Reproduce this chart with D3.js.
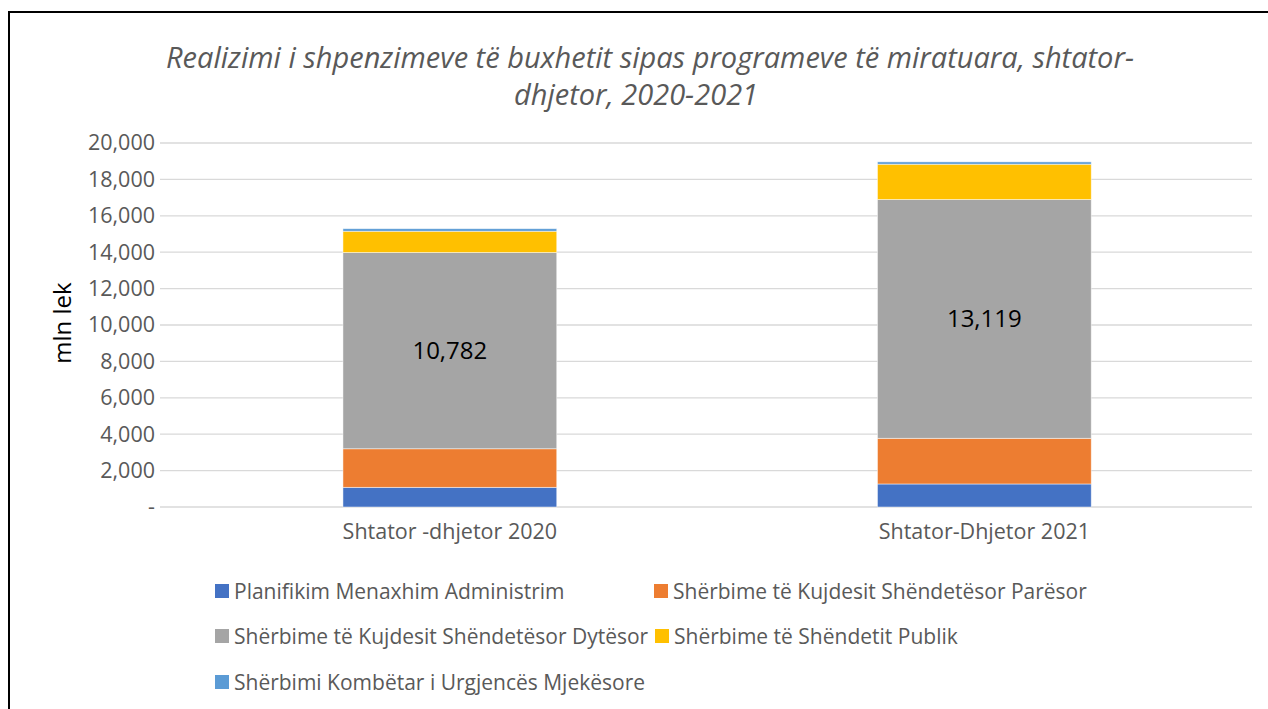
<!DOCTYPE html>
<html>
<head>
<meta charset="utf-8">
<script src="https://cdn.jsdelivr.net/npm/d3@7"></script>
<style>
  body { margin: 0; background: #fff; }
  svg text { font-family: "Open Sans", sans-serif; }
</style>
</head>
<body>
<div id="chart"></div>
<script>
// categories and series (mln lek)
var categories = ["Shtator -dhjetor 2020", "Shtator-Dhjetor 2021"];
var seriesNames = [
  "Planifikim Menaxhim Administrim",
  "Shërbime të Kujdesit Shëndetësor Parësor",
  "Shërbime të Kujdesit Shëndetësor Dytësor",
  "Shërbime të Shëndetit Publik",
  "Shërbimi Kombëtar i Urgjencës Mjekësore"
];
var planifikim = [1080, 1265];
var paresor = [2120, 2510];
var dytesor = [10782, 13119];
var publik = [1170, 1940];
var urgjenca = [140, 130];
var yTicks = [0, 2000, 4000, 6000, 8000, 10000, 12000, 14000, 16000, 18000, 20000];

var colors = ["#4472C4", "#ED7D31", "#A5A5A5", "#FFC000", "#5B9BD5"];

var seriesValues = [planifikim, paresor, dytesor, publik, urgjenca];

// build rows for d3.stack
var rows = categories.map(function(c, i) {
  var r = { cat: c };
  seriesNames.forEach(function(s, j) { r[s] = seriesValues[j][i]; });
  return r;
});

var width = 1268, height = 709;

var svg = d3.select("#chart")
  .append("svg")
    .attr("width", width)
    .attr("height", height);

// outer frame
svg.append("rect")
  .attr("x", 9).attr("y", 12)
  .attr("width", width + 20).attr("height", height + 20)
  .attr("fill", "#fff")
  .attr("stroke", "#000")
  .attr("stroke-width", 2);

// title
var title = svg.append("text")
  .attr("text-anchor", "middle")
  .attr("fill", "#595959")
  .attr("font-size", 29)
  .attr("font-style", "italic");
title.append("tspan").attr("x", 650).attr("y", 68)
  .text("Realizimi i shpenzimeve të buxhetit sipas programeve të miratuara, shtator-");
title.append("tspan").attr("x", 636).attr("y", 105)
  .text("dhjetor, 2020-2021");

// scales
var yScale = d3.scaleLinear().domain([0, 20000]).range([507, 143]);
var xScale = d3.scaleBand().domain(categories)
  .range([182.6, 1251.6]).paddingInner(0.6).paddingOuter(0.3);

var gridLeft = 160, gridRight = 1252;

// gridlines
svg.append("g")
  .selectAll("line")
  .data(yTicks)
  .enter().append("line")
    .attr("x1", gridLeft).attr("x2", gridRight)
    .attr("y1", function(d) { return yScale(d); })
    .attr("y2", function(d) { return yScale(d); })
    .attr("stroke", "#d9d9d9")
    .attr("stroke-width", 1.3);

// y axis
var yAxis = d3.axisLeft(yScale)
  .tickValues(yTicks)
  .tickSize(0)
  .tickPadding(0)
  .tickFormat(function(d) { return d === 0 ? "-" : d3.format(",")(d); });

var yg = svg.append("g")
  .attr("transform", "translate(155,0)")
  .call(yAxis);
yg.select(".domain").remove();
yg.selectAll("text")
  .attr("fill", "#595959")
  .attr("font-size", 21.5)
  .attr("font-family", "'Open Sans', sans-serif");

// y axis title
svg.append("text")
  .attr("transform", "translate(71,323) rotate(-90)")
  .attr("text-anchor", "middle")
  .attr("fill", "#000")
  .attr("font-size", 24)
  .text("mln lek");

// stacked bars
var stack = d3.stack().keys(seriesNames);
var stacked = stack(rows);

var layers = svg.append("g")
  .selectAll("g")
  .data(stacked)
  .enter().append("g")
    .attr("fill", function(d, i) { return colors[i]; });

layers.selectAll("rect")
  .data(function(d) { return d; })
  .enter().append("rect")
    .attr("x", function(d) { return xScale(d.data.cat); })
    .attr("width", xScale.bandwidth())
    .attr("y", function(d) { return yScale(d[1]); })
    .attr("height", function(d) { return yScale(d[0]) - yScale(d[1]); })
    .attr("stroke", "#fff")
    .attr("stroke-opacity", 0.6)
    .attr("stroke-width", 0.8);

// data labels on the gray series
svg.append("g")
  .selectAll("text")
  .data(stacked[2])
  .enter().append("text")
    .attr("x", function(d) { return xScale(d.data.cat) + xScale.bandwidth() / 2; })
    .attr("y", function(d) { return (yScale(d[0]) + yScale(d[1])) / 2 + 8; })
    .attr("text-anchor", "middle")
    .attr("fill", "#000")
    .attr("font-size", 24)
    .text(function(d) { return d3.format(",")(d.data[seriesNames[2]]); });

// x axis labels
var xAxis = d3.axisBottom(xScale).tickSize(0).tickPadding(0);
var xg = svg.append("g")
  .attr("transform", "translate(0,524)")
  .call(xAxis);
xg.select(".domain").remove();
xg.selectAll("text")
  .attr("fill", "#595959")
  .attr("font-size", 21.5)
  .attr("font-family", "'Open Sans', sans-serif");

// legend
var legendPos = [
  { x: 215, y: 591 }, { x: 654, y: 591 },
  { x: 215, y: 636 }, { x: 655, y: 636 },
  { x: 215, y: 682 }
];
var legend = svg.append("g")
  .selectAll("g")
  .data(seriesNames)
  .enter().append("g")
    .attr("transform", function(d, i) {
      return "translate(" + legendPos[i].x + "," + legendPos[i].y + ")";
    });
legend.append("rect")
  .attr("x", 0).attr("y", -7)
  .attr("width", 14).attr("height", 14)
  .attr("fill", function(d, i) { return colors[i]; });
legend.append("text")
  .attr("x", 19).attr("y", 7.5)
  .attr("fill", "#595959")
  .attr("font-size", 21)
  .text(function(d) { return d; });
</script>
</body>
</html>
